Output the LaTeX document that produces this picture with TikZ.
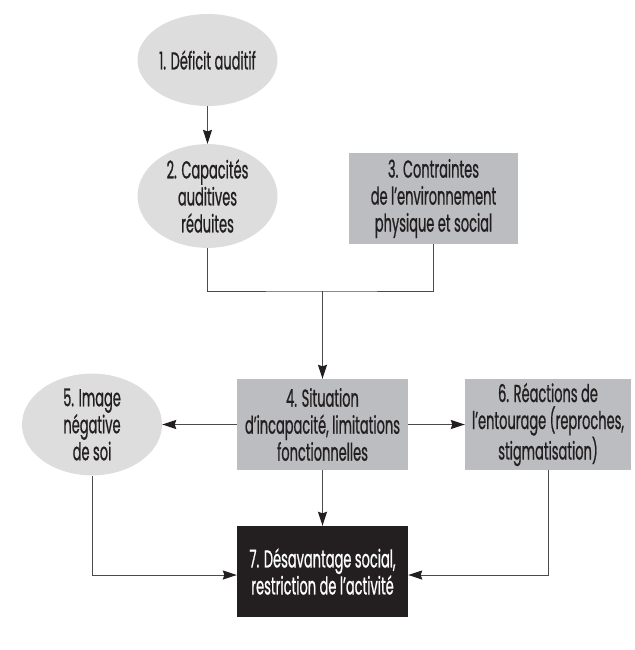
\documentclass[tikz,border=0pt]{standalone}
\usepackage{fontspec}
\setmainfont{Poppins}[FakeStretch=0.53,FakeBold=0.7]
\usetikzlibrary{shapes.geometric,arrows.meta}
\definecolor{ellgray}{RGB}{221,221,222}
\definecolor{boxgray}{RGB}{188,189,192}
\definecolor{darkbox}{RGB}{35,31,32}
\definecolor{txt}{RGB}{35,31,32}
\definecolor{linec}{RGB}{75,75,75}
\begin{document}
\begin{tikzpicture}[x=1pt,y=-1pt,
  every node/.style={font=\fontsize{24.5}{27}\selectfont, text=txt, align=center, inner sep=0pt},
  ell/.style={ellipse, fill=ellgray, minimum width=140pt, minimum height=92pt},
  gbox/.style={rectangle, fill=boxgray, minimum width=171pt, minimum height=91pt},
  bbox/.style={rectangle, fill=darkbox, text=white, minimum width=171pt, minimum height=91pt},
  conn/.style={draw=linec, line width=1pt},
  arr/.style={conn, -{Stealth[length=14pt,width=9pt,inset=1.5pt,color=txt]}}]
\useasboundingbox (0,0) rectangle (634,650);
\node[ell] (e1) at (207.5,60) {1. Déficit auditif};
\node[ell] (e2) at (207.5,196) {2. Capacités\\auditives\\réduites};
\node[gbox, minimum width=169pt] (b3) at (433.5,198.5) {3. Contraintes\\de l’environnement\\physique et social};
\node[gbox] (b4) at (322.5,424.5) {4. Situation\\d’incapacité, limitations\\fonctionnelles};
\node[ell] (e5) at (92,424.5) {5. Image\\négative\\de soi};
\node[gbox, minimum width=166pt] (b6) at (548,424.5) {6. Réactions de\\l’entourage (reproches,\\stigmatisation)};
\node[bbox] (b7) at (322.5,571.5) {7. Désavantage social,\\restriction de l’activité};
\coordinate (j) at (322.5,291);
\draw[arr] (e1) -- (e2);
\draw[conn] (e2.south) |- (j) -| (b3.south);
\draw[arr] (j) -- (b4.north);
\draw[arr] (b4) -- (e5);
\draw[arr] (b4) -- (b6);
\draw[arr] (b4) -- (b7);
\draw[arr] (e5.south) |- ([yshift=-3.5pt]b7.west);
\draw[arr] (b6.south) |- ([yshift=-3.5pt]b7.east);
\end{tikzpicture}
\end{document}
